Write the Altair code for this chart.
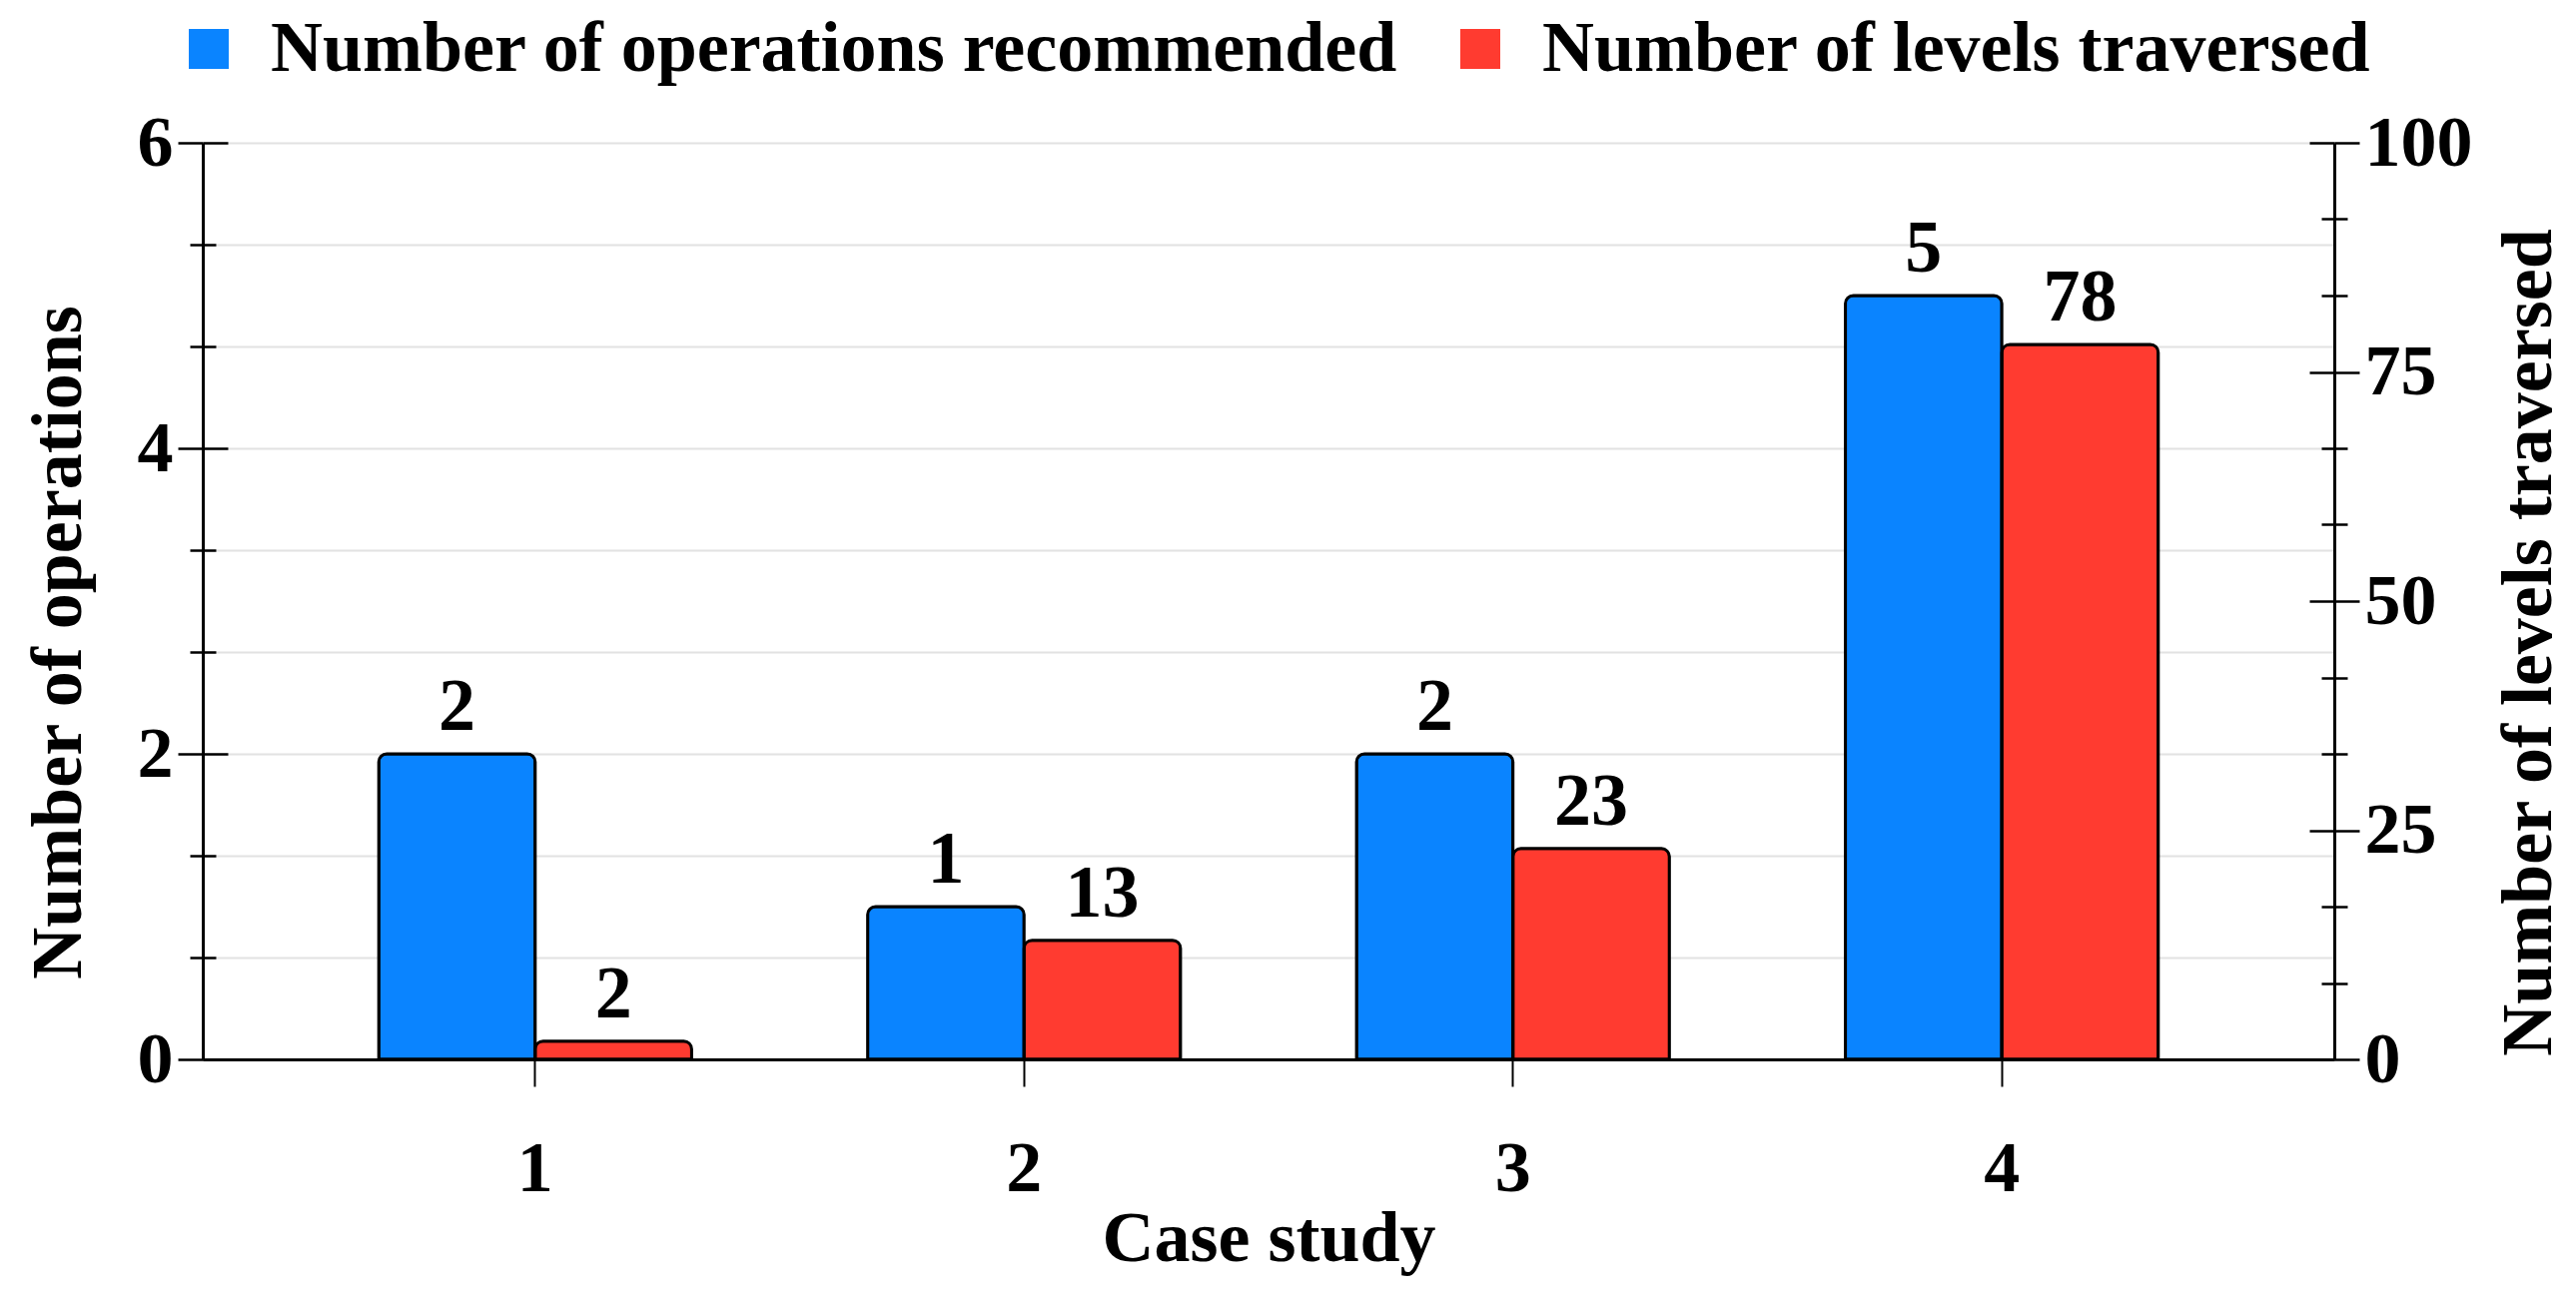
import altair as alt
import pandas as pd

# ---- data ----
cases = ["1", "2", "3", "4"]
ops = [2, 1, 2, 5]
levels = [2, 13, 23, 78]
series_names = ["Number of operations recommended", "Number of levels traversed"]
colors = ["#0A84FF", "#FF3B30"]

left_ticks = [i * 2 / 3 for i in range(10)]
left_major = [0, 2, 4, 6]
left_minor = [v for v in left_ticks if v not in left_major]
right_ticks = [i * 25 / 3 for i in range(13)]
right_major = [0, 25, 50, 75, 100]
right_minor = [v for v in right_ticks if v not in right_major]

df = pd.DataFrame({"case": cases, "ops": ops, "levels": levels})

FONT = "Liberation Serif"
W, H = 2134, 918
MAJ, MIN = 25, 13

left_scale = alt.Scale(domain=[0, 6], nice=False, zero=True)
right_scale = alt.Scale(domain=[0, 100], nice=False, zero=True)

x_enc = alt.X(
    "case:N", sort=cases,
    scale=alt.Scale(paddingInner=0.36, paddingOuter=0.36),
    axis=alt.Axis(
        labelAngle=0, tickSize=27, tickWidth=2, tickColor="black",
        domainColor="black", domainWidth=3,
        labelFont=FONT, labelFontSize=72, labelFontWeight="bold", labelColor="black",
        labelPadding=47, labelBaseline="top",
        title="Case study", titleFont=FONT, titleFontSize=72, titleFontWeight="bold",
        titleColor="black", titleY=201, titleBaseline="alphabetic",
    ),
)
xoff_enc = alt.XOffset(
    "series:N", sort=series_names,
    scale=alt.Scale(domain=series_names, paddingInner=0, paddingOuter=0),
)
color_enc = alt.Color(
    "series:N",
    scale=alt.Scale(domain=series_names, range=colors),
    legend=alt.Legend(
        orient="none", legendX=-30, legendY=-130, direction="horizontal",
        title=None, symbolType="square", symbolSize=1600, symbolStrokeWidth=0,
        symbolOpacity=1,
        labelFont=FONT, labelFontSize=72, labelFontWeight="bold", labelColor="black",
        labelOffset=26, columnPadding=46, padding=0, labelLimit=2000,
    ),
)


def main_axis(orient, values, test, title, title_x):
    return alt.Axis(
        orient=orient, values=values,
        tickSize={"condition": {"test": test, "value": MAJ}, "value": MIN},
        tickWidth=2.5, tickColor="black", domainColor="black", domainWidth=3,
        labelExpr=f"({test}) ? '' + round(datum.value) : ''",
        labelFont=FONT, labelFontSize=72, labelFontWeight="bold", labelColor="black",
        labelPadding=5, labelOverlap=False, labelFlush=False,
        grid=(orient == "left"), gridColor="#e2e2e2", gridWidth=2,
        title=title, titleFont=FONT, titleFontSize=72, titleFontWeight="bold",
        titleColor="black", titleAngle=270, titleX=title_x, titleY=500,
        titleAlign="center", titleBaseline="alphabetic",
    )


def inner_axis(orient, values, size):
    return alt.Axis(
        orient=orient, values=values, offset=-size, tickSize=size,
        tickWidth=2.5, tickColor="black", domain=False, labels=False,
        grid=False, title=None,
    )


left_test = "abs(datum.value / 2 - round(datum.value / 2)) < 0.01"
right_test = "abs(datum.value / 25 - round(datum.value / 25)) < 0.01"

bar_kw = dict(stroke="black", strokeWidth=3, cornerRadiusTopLeft=8, cornerRadiusTopRight=8)
text_kw = dict(font=FONT, fontSize=74, fontWeight="bold", color="black",
               baseline="alphabetic", dy=-24)

base = alt.Chart(df)

# ---- left series ----
blue_base = base.transform_calculate(series=f"'{series_names[0]}'")
blue_bars = blue_base.mark_bar(**bar_kw).encode(
    x=x_enc, xOffset=xoff_enc,
    y=alt.Y("ops:Q", scale=left_scale,
            axis=main_axis("left", left_ticks, left_test, "Number of operations", -123)),
    color=color_enc,
)
blue_text = blue_base.mark_text(**text_kw).encode(
    x=x_enc, xOffset=xoff_enc,
    y=alt.Y("ops:Q", scale=left_scale, axis=inner_axis("left", left_major, MAJ)),
    text="ops:Q",
)
blue_dummy = blue_base.mark_point(opacity=0).encode(
    y=alt.Y("ops:Q", scale=left_scale, axis=inner_axis("left", left_minor, MIN)),
)
left = alt.layer(blue_bars, blue_text, blue_dummy).resolve_axis(y="independent")

# ---- right series ----
red_base = base.transform_calculate(series=f"'{series_names[1]}'")
red_bars = red_base.mark_bar(**bar_kw).encode(
    x=x_enc, xOffset=xoff_enc,
    y=alt.Y("levels:Q", scale=right_scale,
            axis=main_axis("right", right_ticks, right_test, "Number of levels traversed", 216)),
    color=color_enc,
)
red_text = red_base.mark_text(**text_kw).encode(
    x=x_enc, xOffset=xoff_enc,
    y=alt.Y("levels:Q", scale=right_scale, axis=inner_axis("right", right_major, MAJ)),
    text="levels:Q",
)
red_dummy = red_base.mark_point(opacity=0).encode(
    y=alt.Y("levels:Q", scale=right_scale, axis=inner_axis("right", right_minor, MIN)),
)
right = alt.layer(red_bars, red_text, red_dummy).resolve_axis(y="independent")

chart = (
    alt.layer(left, right)
    .resolve_scale(y="independent")
    .properties(
        width=W, height=H,
        autosize=alt.AutoSizeParams(type="none"),
        padding={"left": 195, "top": 135, "right": 234, "bottom": 237},
        background="white",
    )
    .configure_view(strokeWidth=0)
)

chart.save("out.html", embed_options={"renderer": "svg", "actions": False})
